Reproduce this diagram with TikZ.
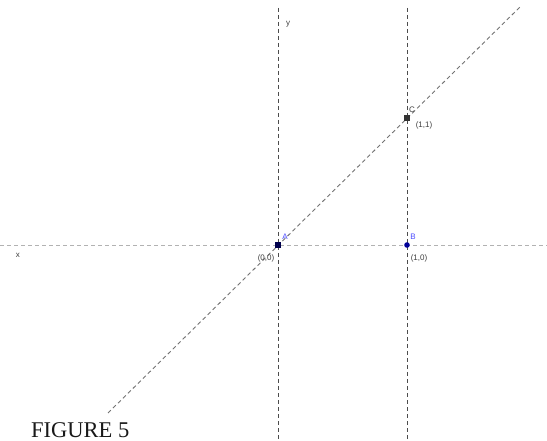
\documentclass[tikz,border=0pt]{standalone}
\usepackage{fontspec}
\setmainfont{Liberation Serif}
\newfontfamily\lblfont{Liberation Sans}
\usetikzlibrary{calc}
\begin{document}
\begin{tikzpicture}[x=1pt,y=-1pt,
  axisline/.style={line width=0.9pt,dash pattern=on 4pt off 3pt},
  lbl/.style={font=\lblfont\fontsize{8}{9}\selectfont,inner sep=0pt,text=black!75},
  ptname/.style={font=\lblfont\fontsize{8}{9}\selectfont,inner sep=0pt,text=blue!70},
]
\useasboundingbox[fill=white] (0,0) rectangle (547,441);
% points
\coordinate (A) at (278,245);
\coordinate (B) at (407,245);
\coordinate (C) at (407,118);
\coordinate (xl) at (0,245);
\coordinate (xr) at (547,245);
\coordinate (yt) at (278,8);
\coordinate (yb) at (278,441);
\coordinate (vt) at (407,8);
\coordinate (vb) at (407,441);
\coordinate (dl) at (108,413);
\coordinate (dr) at (521,6);
% lines
\draw[axisline,draw=black!30] (xl) -- (xr);
\draw[axisline,draw=black!70] (yt) -- (yb);
\draw[axisline,draw=black!70] (vt) -- (vb);
\draw[axisline,draw=black!55] (dl) -- (dr);
% points
\fill[blue!30!black] ($(A)+(-3,-3)$) rectangle ($(A)+(3,3)$);
\fill[blue!60!black] (B) circle (2.8);
\fill[black!80] ($(C)+(-3,-3)$) rectangle ($(C)+(3,3)$);
% labels
\node[ptname] (nA) at (285,237) {A};
\node[ptname] (nB) at (413,237) {B};
\node[lbl] (nC) at (412,110) {C};
\node[lbl] (lA) at (266,258) {(0,0)};
\node[lbl] (lB) at (419,258) {(1,0)};
\node[lbl] (lC) at (424,125) {(1,1)};
\node[lbl] (lx) at (18,255) {x};
\node[lbl] (ly) at (288,24) {y};
\node[font=\fontsize{22.5}{26}\selectfont,inner sep=0pt,anchor=base west,text=black!90] (fig) at (31,437) {FIGURE 5};
\end{tikzpicture}
\end{document}
